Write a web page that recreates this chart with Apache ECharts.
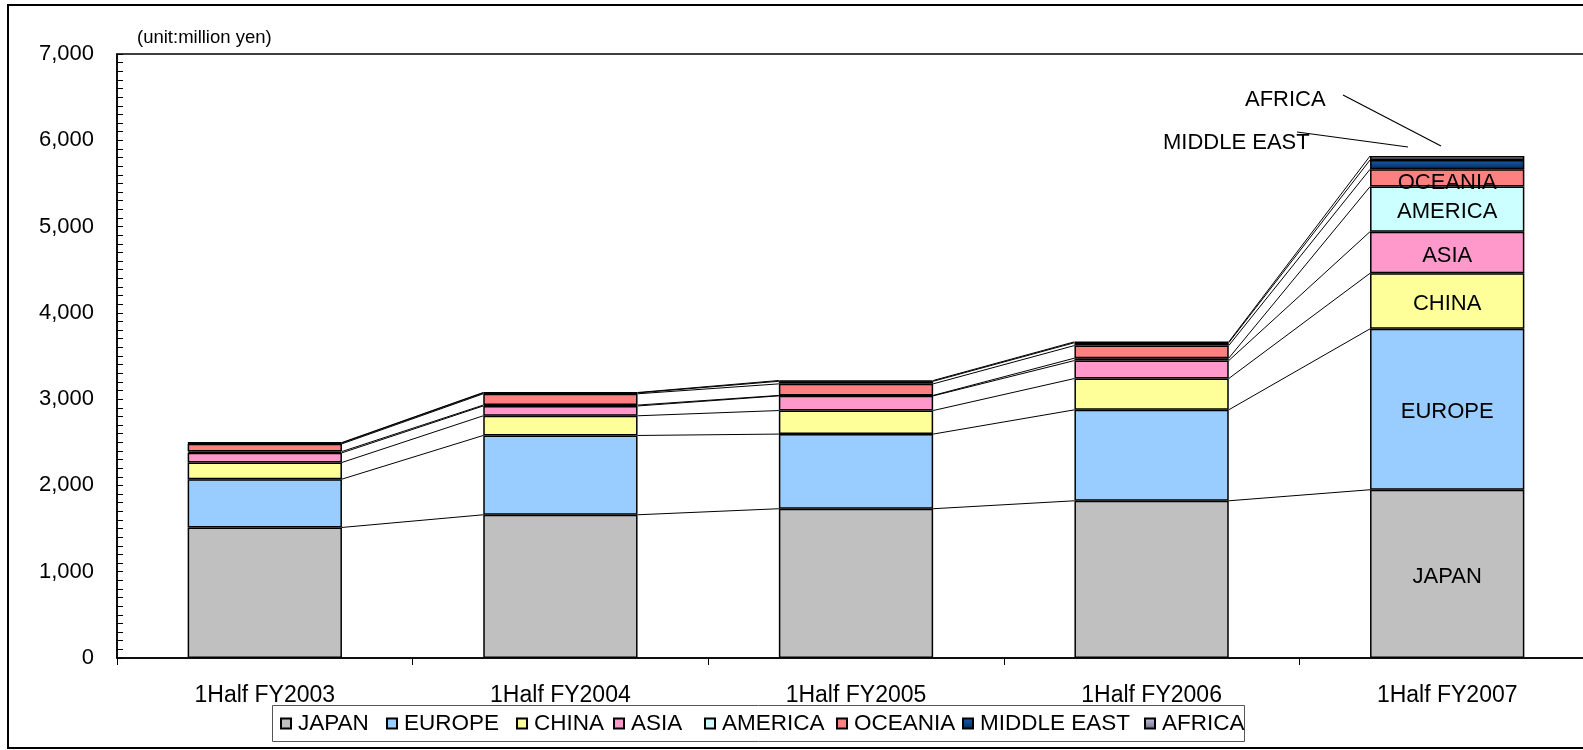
<!DOCTYPE html>
<html><head><meta charset="utf-8">
<script src="https://cdn.jsdelivr.net/npm/echarts@6/dist/echarts.min.js"></script>
<style>html,body{margin:0;padding:0;background:#fff}#c{width:1583px;height:750px}</style>
</head><body><div id="c"></div>
<script>
const categories = ['1Half FY2003', '1Half FY2004', '1Half FY2005', '1Half FY2006', '1Half FY2007'];
const japan      = [1513, 1660, 1730, 1822, 1950];
const europe     = [560, 919, 865, 1054, 1865];
const china      = [193, 228, 273, 363, 644];
const asia       = [112, 114, 170, 208, 482];
const america    = [15, 10, 5, 28, 522];
const oceania    = [89, 131, 134, 146, 201];
const middleEast = [10, 10, 30, 33, 108];
const africa     = [5, 5, 9, 10, 46];
const seriesNames = ['JAPAN', 'EUROPE', 'CHINA', 'ASIA', 'AMERICA', 'OCEANIA', 'MIDDLE EAST', 'AFRICA'];
const yTicks = [0, 1000, 2000, 3000, 4000, 5000, 6000, 7000];

const FONT = '"Liberation Sans", Arial, sans-serif';
const values = [japan, europe, china, asia, america, oceania, middleEast, africa];
const colors = [
  '#C0C0C0', '#99CCFF', '#FFFF99', '#FF99CC', '#CCFFFF', '#FF8080',
  {type:'linear', x:0, y:0, x2:0, y2:1, colorStops:[{offset:0, color:'#1a5fb0'}, {offset:1, color:'#002a5c'}]},
  {type:'linear', x:0, y:0, x2:0, y2:1, colorStops:[{offset:0, color:'#c8c8e0'}, {offset:1, color:'#6a6a8a'}]}
];
const legendItemLeft = [280, 386, 516, 613, 704, 836, 962, 1144];
const labelOffsets = [3, 3, 3, 3, 3, 5];
const BAR_W = 0.522;

// cumulative stack tops
const cum = [];
values.forEach((arr, s) => {
  cum.push(arr.map((v, i) => v + (s > 0 ? cum[s - 1][i] : 0)));
});
const lineData = [];
cum.forEach(c => { for (let i = 0; i < c.length - 1; i++) lineData.push([i, c[i], c[i + 1]]); });

const series = values.map((arr, s) => ({
  name: seriesNames[s],
  type: 'bar',
  stack: 'total',
  barWidth: (BAR_W * 100) + '%',
  data: arr,
  itemStyle: { color: colors[s], borderColor: '#000', borderWidth: 1.5 },
  label: {
    show: s < 6,
    position: 'inside',
    offset: [0, labelOffsets[s] || 0],
    color: '#000',
    fontSize: 22,
    fontFamily: FONT,
    formatter: p => p.dataIndex === categories.length - 1 ? seriesNames[s] : ''
  }
}));
series.push({
  type: 'custom',
  name: 'serieslines',
  z: 1,
  silent: true,
  data: lineData,
  encode: { x: 0, y: [1, 2] },
  renderItem: (params, api) => {
    const i = api.value(0);
    const p1 = api.coord([i, api.value(1)]);
    const p2 = api.coord([i + 1, api.value(2)]);
    const half = api.size([1, 0])[0] * BAR_W / 2;
    return { type: 'line', shape: { x1: p1[0] + half, y1: p1[1], x2: p2[0] - half, y2: p2[1] },
      style: { stroke: '#000', lineWidth: 1 } };
  }
});

const legends = seriesNames.map((n, i) => ({
  data: [n],
  left: legendItemLeft[i], top: 712,
  orient: 'horizontal',
  icon: 'rect',
  itemWidth: 10, itemHeight: 10,
  padding: 0,
  textStyle: { color: '#000', fontSize: 22.5, fontFamily: FONT, padding: [0, 0, 0, 2] }
}));

const chart = echarts.init(document.getElementById('c'), null, { renderer: 'canvas' });
chart.setOption({
  animation: false,
  backgroundColor: '#fff',
  grid: { left: 117, top: 54, width: 1478, bottom: 92, outerBoundsMode: 'none', containLabel: false,
    show: true, borderColor: '#000', borderWidth: 1.5, backgroundColor: 'transparent' },
  xAxis: {
    type: 'category',
    data: categories,
    axisLine: { lineStyle: { color: '#000', width: 1.5 } },
    axisTick: { show: true, length: 7, lineStyle: { color: '#000', width: 1 } },
    axisLabel: { color: '#000', fontSize: 23, fontFamily: FONT, margin: 26 }
  },
  yAxis: {
    type: 'value',
    min: yTicks[0], max: yTicks[yTicks.length - 1], interval: 1000,
    axisLine: { show: true, lineStyle: { color: '#000', width: 1.5 } },
    axisTick: { show: true, inside: true, length: 6, lineStyle: { color: '#000' } },
    minorTick: { show: true, splitNumber: 10, length: 6, lineStyle: { color: '#000' } },
    splitLine: { show: false },
    axisLabel: { color: '#000', fontSize: 22, fontFamily: FONT, margin: 23,
      formatter: v => v.toLocaleString('en-US') }
  },
  legend: legends,
  graphic: [
    { type: 'polyline', shape: { points: [[1600, 5], [8, 5], [8, 748], [1600, 748]] }, style: { fill: null, stroke: '#000', lineWidth: 2 }, silent: true },
    { type: 'rect', shape: { x: 272.5, y: 705.5, width: 972, height: 36 }, style: { fill: null, stroke: '#555', lineWidth: 1 }, silent: true },
    { type: 'text', left: 137, top: 28, style: { text: '(unit:million yen)', fontSize: 18.5, fontFamily: FONT, fill: '#000' } },
    { type: 'text', left: 1245, top: 89, style: { text: 'AFRICA', fontSize: 22, fontFamily: FONT, fill: '#000' } },
    { type: 'text', left: 1163, top: 132, style: { text: 'MIDDLE EAST', fontSize: 22, fontFamily: FONT, fill: '#000' } },
    { type: 'line', shape: { x1: 1343, y1: 95, x2: 1441, y2: 146 }, style: { stroke: '#000', lineWidth: 1.2 } },
    { type: 'line', shape: { x1: 1297, y1: 132, x2: 1408, y2: 147 }, style: { stroke: '#000', lineWidth: 1.2 } }
  ],
  series: series
});
</script></body></html>
